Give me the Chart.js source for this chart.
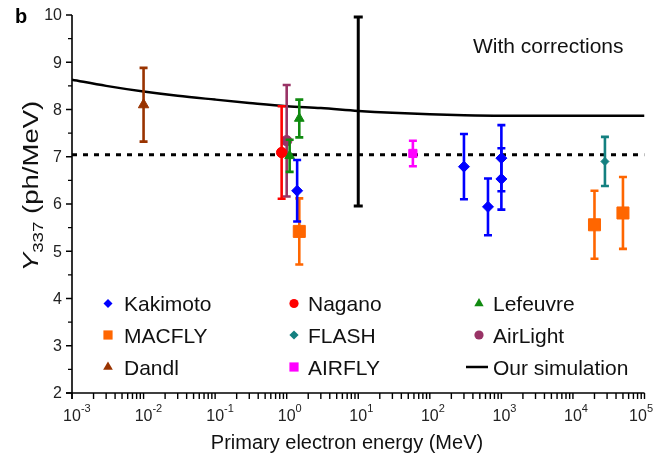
<!DOCTYPE html>
<html><head><meta charset="utf-8">
<script src="https://cdn.jsdelivr.net/npm/chart.js@4.4.0/dist/chart.umd.min.js"></script>
<style>html,body{margin:0;padding:0;background:#fff;}canvas{display:block;}</style>
</head><body>
<canvas id="c" width="654" height="454"></canvas>
<script>
// ---- data ----
const xExps = [-3, -2, -1, 0, 1, 2, 3, 4, 5];
const yTickValues = [2, 3, 4, 5, 6, 7, 8, 9, 10];
const refLevel = 7.04;

const simE = [0.001, 0.003, 0.01, 0.03, 0.1, 0.3, 1, 3, 10, 30, 100, 300, 1000, 10000, 100000];
const simY = [8.63, 8.50, 8.38, 8.29, 8.21, 8.14, 8.07, 8.03, 7.97, 7.93, 7.90, 7.88, 7.87, 7.87, 7.87];
const simErrE = [10], simErrY = [7.96], simErr = [2.0];

const kakimotoE = [1.4, 300, 650, 1000, 1000];
const kakimotoY = [6.28, 6.79, 5.94, 6.97, 6.53];
const kakimotoErr = [0.65, 0.69, 0.60, 0.70, 0.65];
const naganoE = [0.85], naganoY = [7.09], naganoErr = [0.98];
const lefeuvreE = [1.1, 1.5], lefeuvreY = [7.02, 7.81], lefeuvreErr = [0.34, 0.40];
const macflyE = [1.5, 20000, 50000], macflyY = [5.42, 5.56, 5.81], macflyErr = [0.70, 0.72, 0.76];
const flashE = [28000], flashY = [6.90], flashErr = [0.52];
const airlightE = [1.0], airlightY = [7.34], airlightErr = [1.18];
const dandlE = [0.01], dandlY = [8.10], dandlErr = [0.78];
const airflyE = [58], airflyY = [7.07], airflyErr = [0.27];

const legendOrder = ['Kakimoto', 'Nagano', 'Lefeuvre', 'MACFLY', 'FLASH', 'AirLight', 'Dandl', 'AIRFLY', 'Our simulation'];

// ---- helpers ----
const pts = (xs, ys) => xs.map((x, i) => ({x: x, y: ys[i]}));
const FONT = '"Liberation Sans", Arial, sans-serif';

function series(label, xs, ys, errs, color, style, radius, legendR) {
  return {
    label: label, data: pts(xs, ys), errors: errs,
    backgroundColor: color, borderColor: color, borderWidth: 1,
    pointStyle: style, pointRadius: radius, pointHoverRadius: radius,
    showLine: false, legendR: legendR, errWidth: 2.6, capHalf: 4
  };
}

const datasets = [
  series('Kakimoto', kakimotoE, kakimotoY, kakimotoErr, '#0000ff', 'rectRot', 5.5, 4.5),
  series('Nagano', naganoE, naganoY, naganoErr, '#ff0000', 'circle', 5.2, 4.6),
  series('Lefeuvre', lefeuvreE, lefeuvreY, lefeuvreErr, '#108a10', 'triangle', 5.6, 5.4),
  series('MACFLY', macflyE, macflyY, macflyErr, '#ff6600', 'rect', 8.5, 6.5),
  series('FLASH', flashE, flashY, flashErr, '#138080', 'rectRot', 4, 4.6),
  series('AirLight', airlightE, airlightY, airlightErr, '#993366', 'circle', 5.2, 4.6),
  series('Dandl', dandlE, dandlY, dandlErr, '#993300', 'triangle', 6, 5.6),
  series('AIRFLY', airflyE, airflyY, airflyErr, '#ff00ff', 'rect', 5.8, 6.5),
  {
    label: 'Our simulation', data: pts(simE, simY), showLine: true,
    borderColor: '#000', backgroundColor: '#000', borderWidth: 2.5,
    pointRadius: 0, cubicInterpolationMode: 'monotone', legendLine: true
  },
  {
    label: 'simErr', data: pts(simErrE, simErrY), errors: simErr, showLine: false,
    borderColor: '#000', backgroundColor: '#000', pointRadius: 0, errWidth: 3, capHalf: 4.5, noLegend: true
  },
  {
    label: 'ref', data: [{x: 1e-3, y: refLevel}, {x: 1e5, y: refLevel}], showLine: true,
    borderColor: '#000', borderWidth: 3, borderDash: [5, 6], pointRadius: 0, noLegend: true
  }
];

// ---- plugins ----
const errorBarPlugin = {
  id: 'errbars',
  beforeDatasetDraw(chart, args) {
    const ds = chart.data.datasets[args.index];
    if (!ds.errors) return;
    const ctx = chart.ctx, xs = chart.scales.x, ys = chart.scales.y;
    ctx.save();
    ctx.strokeStyle = ds.borderColor;
    ctx.lineWidth = ds.errWidth || 2.5;
    ds.data.forEach((p, i) => {
      const e = ds.errors[i];
      const px = xs.getPixelForValue(p.x);
      const top = ys.getPixelForValue(p.y + e), bot = ys.getPixelForValue(p.y - e);
      const c = ds.capHalf || 4;
      ctx.beginPath();
      ctx.moveTo(px, top); ctx.lineTo(px, bot);
      ctx.moveTo(px - c, top); ctx.lineTo(px + c, top);
      ctx.moveTo(px - c, bot); ctx.lineTo(px + c, bot);
      ctx.stroke();
    });
    ctx.restore();
  }
};

function drawMarker(ctx, style, x, y, r, color) {
  ctx.save();
  ctx.fillStyle = color;
  ctx.beginPath();
  if (style === 'circle') {
    ctx.arc(x, y, r, 0, Math.PI * 2);
  } else if (style === 'rect') {
    const h = r * Math.SQRT1_2;
    ctx.rect(x - h, y - h, 2 * h, 2 * h);
  } else if (style === 'rectRot') {
    ctx.moveTo(x, y - r); ctx.lineTo(x + r, y); ctx.lineTo(x, y + r); ctx.lineTo(x - r, y);
    ctx.closePath();
  } else if (style === 'triangle') {
    const a = Math.PI * 2 / 3;
    ctx.moveTo(x, y - r);
    ctx.lineTo(x + Math.sin(a) * r, y - Math.cos(a) * r);
    ctx.lineTo(x + Math.sin(2 * a) * r, y - Math.cos(2 * a) * r);
    ctx.closePath();
  }
  ctx.fill();
  ctx.restore();
}

const legendPlugin = {
  id: 'customLegend',
  afterDraw(chart) {
    const ctx = chart.ctx;
    const colMarkerX = [108, 294, 479];
    const colTextX = [124, 308, 493];
    const rowY = [303.5, 335, 367];
    ctx.save();
    ctx.font = '21px ' + FONT;
    ctx.fillStyle = '#111';
    ctx.textBaseline = 'alphabetic';
    legendOrder.forEach((name, i) => {
      const ds = chart.data.datasets.find(d => d.label === name);
      const col = i % 3, row = Math.floor(i / 3);
      const mx = colMarkerX[col], my = rowY[row];
      if (ds.legendLine) {
        ctx.save(); ctx.strokeStyle = '#000'; ctx.lineWidth = 2.5;
        ctx.beginPath(); ctx.moveTo(466, my); ctx.lineTo(488, my); ctx.stroke(); ctx.restore();
      } else {
        drawMarker(ctx, ds.pointStyle, mx, my, ds.legendR, ds.backgroundColor);
      }
      ctx.fillStyle = '#111';
      ctx.fillText(name, colTextX[col], my + 7.5);
    });
    ctx.restore();
  }
};

const axesPlugin = {
  id: 'axes',
  afterDraw(chart) {
    const ctx = chart.ctx, a = chart.chartArea, xs = chart.scales.x, ys = chart.scales.y;
    ctx.save();
    ctx.strokeStyle = '#000';
    ctx.lineWidth = 1.6;
    ctx.beginPath();
    ctx.moveTo(a.left, a.top); ctx.lineTo(a.left, a.bottom + 6);
    ctx.moveTo(a.left - 6, a.bottom); ctx.lineTo(a.right, a.bottom);
    ctx.stroke();
    // y ticks
    ctx.lineWidth = 1.4;
    ctx.beginPath();
    for (let v = yTickValues[0]; v <= yTickValues[yTickValues.length - 1] + 1e-9; v += 0.5) {
      const py = ys.getPixelForValue(v);
      const len = Math.abs(v - Math.round(v)) < 1e-6 ? 6 : 4;
      ctx.moveTo(a.left - len, py); ctx.lineTo(a.left, py);
    }
    // x ticks
    xExps.forEach((e, idx) => {
      const kmax = idx === xExps.length - 1 ? 1 : 9;
      for (let k = 1; k <= kmax; k++) {
        const px = xs.getPixelForValue(k * Math.pow(10, e));
        ctx.moveTo(px, a.bottom); ctx.lineTo(px, a.bottom + 6);
      }
    });
    ctx.stroke();
    // y labels
    ctx.fillStyle = '#222';
    ctx.font = '16px ' + FONT;
    ctx.textAlign = 'right';
    ctx.textBaseline = 'middle';
    yTickValues.forEach(v => ctx.fillText(String(v), a.left - 10, ys.getPixelForValue(v) + 1));
    // x labels 10^e
    ctx.textBaseline = 'alphabetic';
    ctx.textAlign = 'left';
    xExps.forEach(e => {
      const px = xs.getPixelForValue(Math.pow(10, e));
      ctx.font = '16px ' + FONT;
      const w10 = ctx.measureText('10').width;
      ctx.font = '11px ' + FONT;
      const sup = String(e);
      const ws = ctx.measureText(sup).width;
      let x0 = px - w10 / 2;
      if (x0 + w10 + ws > 653) x0 = 653 - w10 - ws;
      ctx.font = '16px ' + FONT;
      ctx.fillText('10', x0, a.bottom + 28);
      ctx.font = '11px ' + FONT;
      ctx.fillText(sup, x0 + w10, a.bottom + 19);
    });
    // x title
    ctx.fillStyle = '#111';
    ctx.font = '20px ' + FONT;
    ctx.textAlign = 'center';
    ctx.fillText('Primary electron energy (MeV)', 347, 449);
    // y title: Y_337 (ph/MeV)
    ctx.save();
    ctx.translate(38, 186);
    ctx.rotate(-Math.PI / 2);
    ctx.scale(1.25, 1);
    ctx.textAlign = 'left';
    const fMain = '22px ' + FONT, fIt = 'italic 22px ' + FONT, fSub = '15px ' + FONT;
    ctx.font = fIt; const wY = ctx.measureText('Y').width;
    ctx.font = fSub; const wS = ctx.measureText('337').width;
    ctx.font = fMain; const wR = ctx.measureText(' (ph/MeV)').width;
    let u = -(wY + wS + wR) / 2;
    ctx.font = fIt; ctx.fillText('Y', u, 0); u += wY;
    ctx.font = fSub; ctx.fillText('337', u, 5); u += wS;
    ctx.font = fMain; ctx.fillText(' (ph/MeV)', u, 0);
    ctx.restore();
    // panel letter and annotation
    ctx.textAlign = 'left';
    ctx.font = 'bold 20px ' + FONT;
    ctx.fillStyle = '#000';
    ctx.fillText('b', 15, 23);
    ctx.font = '21px ' + FONT;
    ctx.fillStyle = '#111';
    ctx.fillText('With corrections', 473, 53);
    ctx.restore();
  }
};

new Chart(document.getElementById('c'), {
  type: 'scatter',
  data: {datasets: datasets},
  options: {
    responsive: false,
    animation: false,
    devicePixelRatio: 1,
    layout: {padding: {left: 72, right: 9, top: 15, bottom: 61}},
    plugins: {legend: {display: false}, tooltip: {enabled: false}, title: {display: false}},
    scales: {
      x: {type: 'logarithmic', min: 1e-3, max: 1e5, display: false},
      y: {type: 'linear', min: yTickValues[0], max: yTickValues[yTickValues.length - 1], display: false}
    }
  },
  plugins: [errorBarPlugin, axesPlugin, legendPlugin]
});
</script>
</body></html>
